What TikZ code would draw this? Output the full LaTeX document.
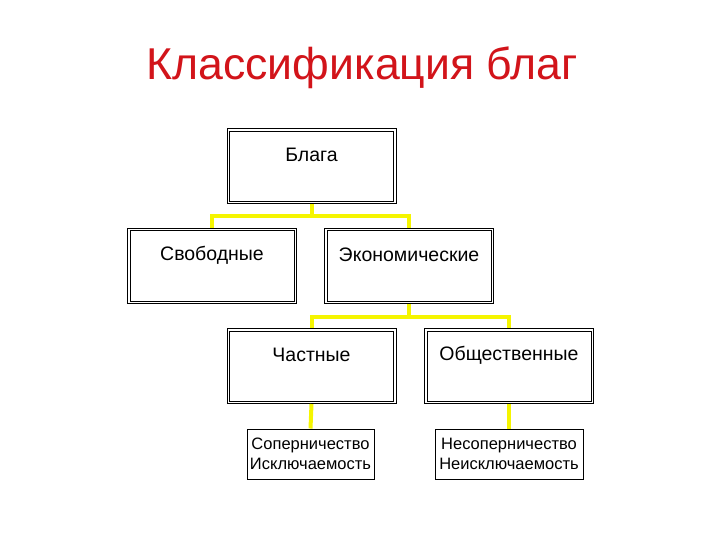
\documentclass[tikz,border=0pt]{standalone}
\usepackage{fontspec}
\setmainfont{Liberation Sans}
\usetikzlibrary{calc}
\definecolor{titlered}{HTML}{D2141A}
\definecolor{conyellow}{HTML}{F5F500}
\begin{document}
\begin{tikzpicture}[x=1pt,y=-1pt,
  bigbox/.style={draw=black,line width=1pt,
    minimum width=169pt,minimum height=75pt,inner sep=0pt},
  innerline/.style={draw=black,line width=1pt},
  smallbox/.style={draw=black,line width=1pt,fill=white,minimum height=50pt,
    inner sep=0pt,align=center,font=\fontsize{16.5}{20}\selectfont},
  boxtext/.style={font=\fontsize{19.5}{23}\selectfont},
  conn/.style={draw=conyellow,line width=4pt}]
\useasboundingbox (0,0) rectangle (720,540);
\node[text=titlered,font=\fontsize{44.6}{50}\selectfont] (title) at (362,68) {Классификация благ};

\node[bigbox] (b) at (311.5,166.5) {};
\node[bigbox] (s) at (212,266) {};
\node[bigbox] (e) at (409,266) {};
\node[bigbox] (p) at (311.5,366) {};
\node[bigbox] (o) at (509,366) {};
\foreach \n in {b,s,e,p,o}
  \draw[innerline] ($(\n.north west)+(3pt,-3pt)$) rectangle ($(\n.south east)+(-3pt,3pt)$);
\node[smallbox,minimum width=127pt] (ps) at (310.5,454) {Соперничество\\Исключаемость};
\node[smallbox,minimum width=148pt] (os) at (509,454) {Несоперничество\\Неисключаемость};

\node[boxtext] (bt) at (311.5,155) {Блага};
\node[boxtext] (st) at (212,255) {Свободные};
\node[boxtext] (et) at (409,255) {Экономические};
\node[boxtext] (pt) at (311.5,355) {Частные};
\node[boxtext] (ot) at (509,355) {Общественные};

\draw[conn] (b.south) -- ++(0,12) -| (s.north);
\draw[conn] (b.south) -- ++(0,12) -| (e.north);
\draw[conn] (e.south) -- ++(0,13) -| (p.north);
\draw[conn] (e.south) -- ++(0,13) -| (o.north);
\draw[conn] (p.south) -- (ps.north);
\draw[conn] (o.south) -- (os.north);
\end{tikzpicture}
\end{document}
